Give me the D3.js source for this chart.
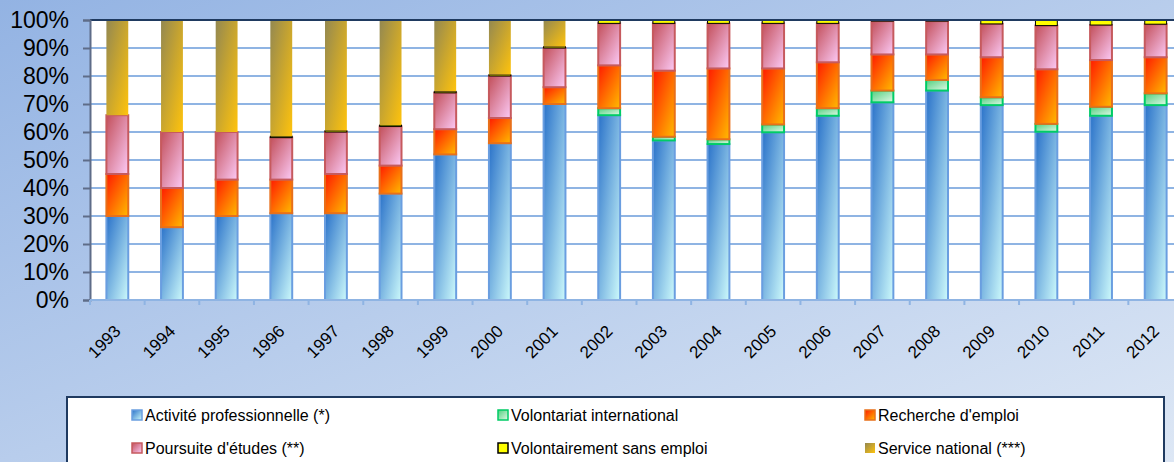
<!DOCTYPE html>
<html>
<head>
<meta charset="utf-8">
<script src="https://cdn.jsdelivr.net/npm/d3@7/dist/d3.min.js"></script>
<style>
body { margin: 0; }
svg { display: block; font-family: "Liberation Sans", Arial, sans-serif; }
</style>
</head>
<body>
<div id="vis"></div>
<script>
var w = 1174;
var h = 462;

// donnees (%)
var years = ["1993","1994","1995","1996","1997","1998","1999","2000","2001","2002",
	"2003","2004","2005","2006","2007","2008","2009","2010","2011","2012"];
var activite =    [30, 26, 30, 31, 31, 38, 52, 56, 70, 66, 57, 55.7, 59.9, 65.8, 70.6, 74.8, 69.6, 60.1, 65.8, 69.6];
var volontariat = [0, 0, 0, 0, 0, 0, 0, 0, 0, 2.5, 1.3, 1.7, 2.8, 2.7, 4.2, 3.8, 2.8, 2.8, 3.2, 4.2];
var recherche =   [15, 14, 13, 12, 14, 10, 9, 9, 6, 15.3, 23.6, 25.3, 20, 16.4, 12.9, 9.1, 14.3, 19.5, 16.7, 12.9];
var poursuite =   [21, 20, 17, 15, 15, 14, 13, 15, 14, 15, 16.9, 16.1, 16.1, 13.9, 11.9, 11.9, 11.9, 15.6, 12.5, 11.8];
var sansEmploi =  [0, 0, 0, 0.5, 0.5, 0.5, 0.5, 0.5, 0.5, 1.2, 1.2, 1.2, 1.2, 1.2, 0.4, 0.4, 1.4, 2.0, 1.8, 1.5];
var service =     [34, 40, 40, 41.5, 39.5, 37.5, 25.5, 19.5, 9.5, 0, 0, 0, 0, 0, 0, 0, 0, 0, 0, 0];

var keys = ["act", "vol", "rec", "pou", "sans", "serv"];
var labels = ["Activité professionnelle (*)", "Volontariat international", "Recherche d'emploi",
	"Poursuite d'études (**)", "Volontairement sans emploi", "Service national (***)"];
var yTicks = [0, 10, 20, 30, 40, 50, 60, 70, 80, 90, 100];

// couleurs: debut degrade, fin degrade, bordure
var colors = {
	act:  ["#2a72c9", "#cdfafb", "#6a9ee0"],
	vol:  ["#4fd07e", "#e2f8e6", "#00cc66"],
	rec:  ["#ff1a00", "#ffbb00", "#e8701a"],
	pou:  ["#c24f5a", "#fccaf6", "#c65a5e"],
	sans: ["#ffff00", "#ffff00", "#000000"],
	serv: ["#938851", "#ffc30c", "none"]
};

var table = years.map(function(y, i) {
	return {year: y, act: activite[i], vol: volontariat[i], rec: recherche[i],
		pou: poursuite[i], sans: sansEmploi[i], serv: service[i]};
});

var svg = d3.select("#vis")
	.append("svg")
	.attr("width", w)
	.attr("height", h);

var defs = svg.append("defs");

var bg = defs.append("linearGradient")
	.attr("id", "bg")
	.attr("x1", 0).attr("y1", 0).attr("x2", 1).attr("y2", 1);
bg.append("stop").attr("offset", "0%").attr("stop-color", "#93b3e3");
bg.append("stop").attr("offset", "100%").attr("stop-color", "#dde7f5");

keys.forEach(function(k) {
	var g = defs.append("linearGradient")
		.attr("id", "g" + k)
		.attr("x1", 0).attr("y1", 0).attr("x2", 1).attr("y2", 1);
	g.append("stop").attr("offset", "0%").attr("stop-color", colors[k][0]);
	g.append("stop").attr("offset", "100%").attr("stop-color", colors[k][1]);
});

// fond
svg.append("rect")
	.attr("width", w)
	.attr("height", h)
	.attr("fill", "url(#bg)");

var x = d3.scaleBand()
	.domain(years)
	.range([90, 1183])
	.paddingInner(0.6)
	.paddingOuter(0.3);

var y = d3.scaleLinear()
	.domain([0, 100])
	.range([300, 20]);

// zone de trace
svg.append("rect")
	.attr("x", 90)
	.attr("y", y(100))
	.attr("width", 1183 - 90)
	.attr("height", y(0) - y(100))
	.attr("fill", "white");

// grille
svg.selectAll("line.grid")
	.data(yTicks.filter(function(d) { return d > 0 && d < 100; }))
	.enter()
	.append("line")
	.attr("class", "grid")
	.attr("x1", 90)
	.attr("x2", 1183)
	.attr("y1", function(d) { return y(d); })
	.attr("y2", function(d) { return y(d); })
	.attr("stroke", "#8fb4e3")
	.attr("stroke-width", 2);

// barres empilees
var stack = d3.stack().keys(keys);
var layers = stack(table);

var layerG = svg.selectAll("g.layer")
	.data(layers)
	.enter()
	.append("g")
	.attr("class", "layer");

layerG.selectAll("rect")
	.data(function(d) {
		return d.filter(function(s) { return s[1] - s[0] > 0; })
			.map(function(s) { return {key: d.key, y0: s[0], y1: s[1], year: s.data.year}; });
	})
	.enter()
	.append("rect")
	.attr("x", function(d) { return x(d.year); })
	.attr("y", function(d) { return y(d.y1); })
	.attr("width", x.bandwidth())
	.attr("height", function(d) { return y(d.y0) - y(d.y1); })
	.attr("fill", function(d) { return "url(#g" + d.key + ")"; })
	.attr("stroke", function(d) { return colors[d.key][2]; })
	.attr("stroke-width", function(d) { return d.key == "sans" ? 1 : 2; });

// bord superieur
svg.append("line")
	.attr("x1", 90)
	.attr("x2", 1183)
	.attr("y1", y(100))
	.attr("y2", y(100))
	.attr("stroke", "#1f3a60")
	.attr("stroke-width", 2);

// axe Y
var yAxis = svg.append("g")
	.attr("transform", "translate(90,0)")
	.call(d3.axisLeft(y).tickValues(yTicks).tickSize(7).tickPadding(14)
		.tickFormat(function(d) { return d + "%"; }));
yAxis.select(".domain")
	.attr("stroke", "#5e6c88")
	.attr("stroke-width", 2);
yAxis.selectAll(".tick line")
	.attr("stroke", "#5e6c88")
	.attr("stroke-width", 2);
yAxis.selectAll(".tick text")
	.attr("fill", "black")
	.style("font-size", "23px")
	.style("font-family", "Liberation Sans, Arial, sans-serif");

// axe X
svg.append("line")
	.attr("x1", 90)
	.attr("x2", 1183)
	.attr("y1", y(0))
	.attr("y2", y(0))
	.attr("stroke", "#8fb4e3")
	.attr("stroke-width", 2);

svg.selectAll("line.xtick")
	.data(years)
	.enter()
	.append("line")
	.attr("class", "xtick")
	.attr("x1", function(d) { return x(d) - x.step() * 0.3; })
	.attr("x2", function(d) { return x(d) - x.step() * 0.3; })
	.attr("y1", y(0))
	.attr("y2", y(0) + 5)
	.attr("stroke", "#8fb4e3")
	.attr("stroke-width", 2);

svg.selectAll("text.xlabel")
	.data(years)
	.enter()
	.append("text")
	.attr("class", "xlabel")
	.text(function(d) { return d; })
	.attr("transform", function(d) {
		return "translate(" + (x(d) + x.bandwidth() / 2 - 4) + "," + (y(0) + 24) + ") rotate(-45)";
	})
	.attr("text-anchor", "end")
	.attr("dy", "0.7em")
	.attr("fill", "black")
	.style("font-size", "17px");

// legende
svg.append("rect")
	.attr("x", 67)
	.attr("y", 397)
	.attr("width", 1164 - 67)
	.attr("height", 80)
	.attr("fill", "white")
	.attr("stroke", "#1f3a60")
	.attr("stroke-width", 2);

var legX = [132, 498, 865];
var legY = [415, 448];

var leg = svg.selectAll("g.leg")
	.data(keys)
	.enter()
	.append("g")
	.attr("class", "leg")
	.attr("transform", function(d, i) {
		return "translate(" + legX[i % 3] + "," + legY[Math.floor(i / 3)] + ")";
	});

leg.append("rect")
	.attr("x", 0)
	.attr("y", -5)
	.attr("width", 10)
	.attr("height", 10)
	.attr("fill", function(d) { return "url(#g" + d + ")"; })
	.attr("stroke", function(d) { return colors[d][2]; })
	.attr("stroke-width", 1.5);

leg.append("text")
	.text(function(d, i) { return labels[i]; })
	.attr("x", 13)
	.attr("y", 0)
	.attr("dy", "0.35em")
	.attr("fill", "black")
	.style("font-size", "16px");
</script>
</body>
</html>
